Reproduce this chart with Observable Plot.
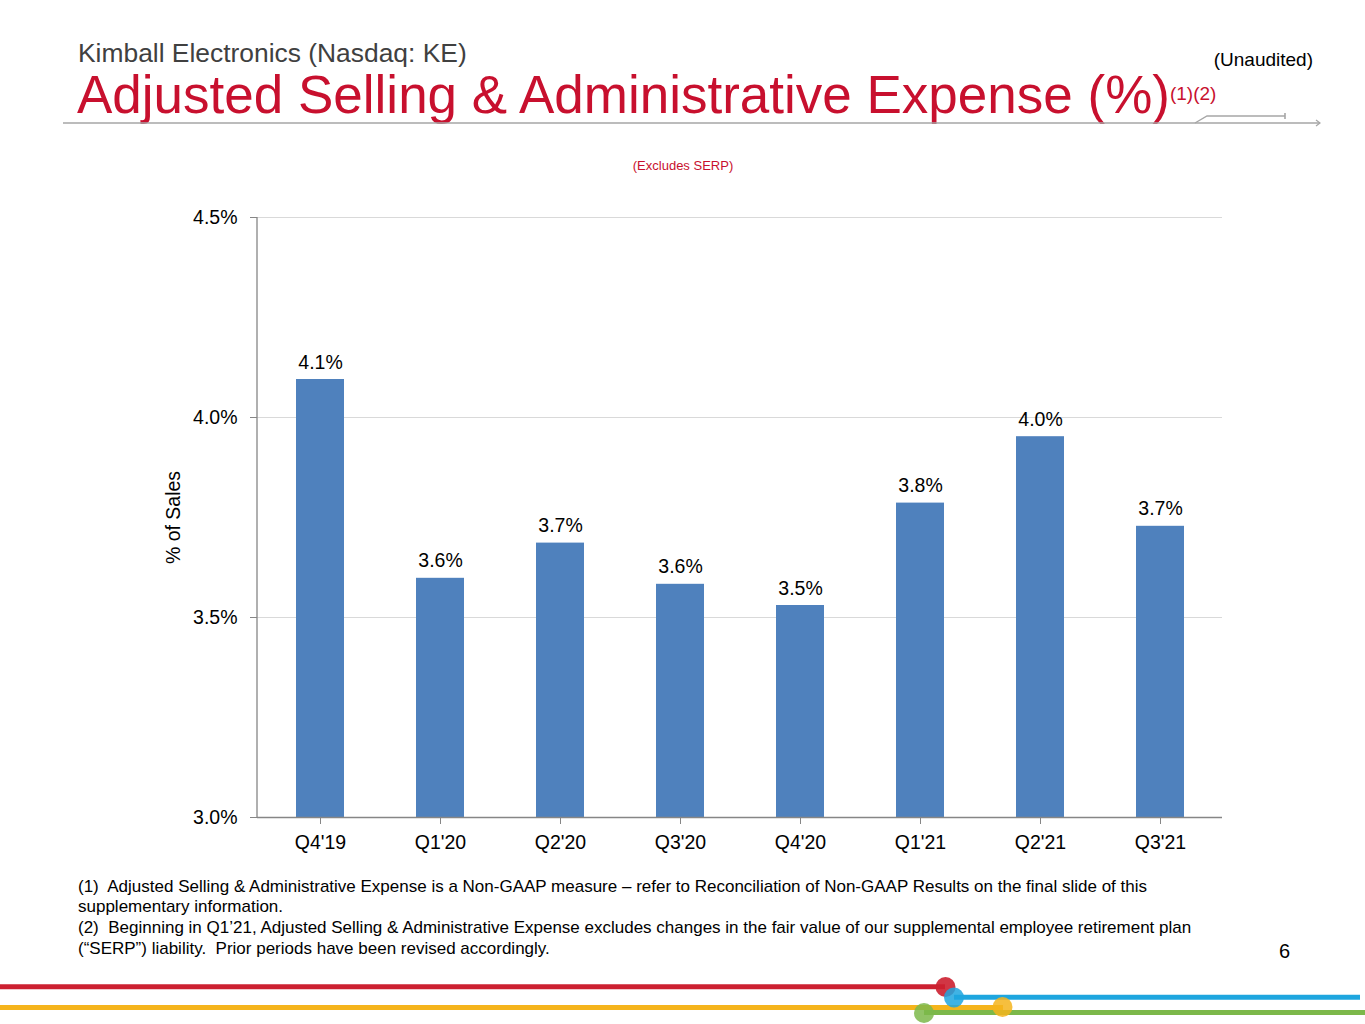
<!DOCTYPE html>
<html><head><meta charset="utf-8">
<script src="https://cdn.jsdelivr.net/npm/d3@7"></script>
<script src="https://cdn.jsdelivr.net/npm/@observablehq/plot@0.6"></script>
<style>
body{margin:0;background:#fff;font-family:"Liberation Sans",Arial,sans-serif;}
#page{position:relative;width:1365px;height:1024px;overflow:hidden;background:#fff;}
.abs{position:absolute;white-space:nowrap;line-height:1;}
#chart{position:absolute;left:0;top:190px;}
</style></head><body><div id="page">
<div class="abs" style="left:78px;top:39.5px;font-size:26.4px;color:#404040;">Kimball Electronics (Nasdaq: KE)</div>
<div class="abs" style="left:77px;top:67.5px;font-size:53px;color:#c8102e;">Adjusted Selling &amp; Administrative Expense (%)<span style="font-size:19px;position:relative;top:-13px;">(1)(2)</span></div>
<div class="abs" style="right:52px;top:50px;font-size:19px;color:#000;">(Unaudited)</div>
<svg class="abs" style="left:0;top:0;" width="1365" height="135">
  <line x1="63" y1="123" x2="1320" y2="123" stroke="#a6a6a6" stroke-width="1.6"/>
  <polyline points="1195,123 1207,116 1285,116" fill="none" stroke="#a6a6a6" stroke-width="1.4"/>
  <line x1="1285" y1="113" x2="1285" y2="119" stroke="#a6a6a6" stroke-width="1.6"/>
  <polyline points="1316,120 1320,123 1316,126" fill="none" stroke="#a6a6a6" stroke-width="1.2"/>
</svg>
<div class="abs" style="left:683px;top:159px;font-size:13px;color:#c8102e;transform:translateX(-50%);">(Excludes SERP)</div>
<div id="chart"></div>
<div class="abs" style="left:78px;top:876.5px;font-size:17px;line-height:20.7px;color:#000;">(1)&nbsp; Adjusted Selling &amp; Administrative Expense is a Non-GAAP measure – refer to Reconciliation of Non-GAAP Results on the final slide of this<br>supplementary information.<br>(2)&nbsp; Beginning in Q1’21, Adjusted Selling &amp; Administrative Expense excludes changes in the fair value of our supplemental employee retirement plan<br>(“SERP”) liability.&nbsp; Prior periods have been revised accordingly.</div>
<div class="abs" style="left:1279px;top:941px;font-size:20px;color:#000;">6</div>
<svg class="abs" style="left:0;top:960px;" width="1365" height="64">
  <line x1="0" y1="26.7" x2="945" y2="26.7" stroke="#cc2030" stroke-width="5"/>
  <line x1="0" y1="47.5" x2="1003" y2="47.5" stroke="#f5b41c" stroke-width="5"/>
  <line x1="954" y1="37.3" x2="1360" y2="37.3" stroke="#1ea6df" stroke-width="5"/>
  <line x1="924" y1="52.5" x2="1365" y2="52.5" stroke="#7cb84a" stroke-width="5"/>
  <circle cx="945.5" cy="27" r="10" fill="#cc2030" opacity="0.9"/>
  <circle cx="954" cy="37.5" r="10" fill="#1ea6df" opacity="0.85"/>
  <circle cx="1002.5" cy="47" r="10" fill="#f5b41c" opacity="0.85"/>
  <circle cx="924" cy="53" r="10" fill="#7cb84a" opacity="0.85"/>
</svg>
</div>
<script>
const quarters = ["Q4'19","Q1'20","Q2'20","Q3'20","Q4'20","Q1'21","Q2'21","Q3'21"];
const values = [4.095,3.598,3.686,3.583,3.530,3.786,3.952,3.728];
const labels = ["4.1%","3.6%","3.7%","3.6%","3.5%","3.8%","4.0%","3.7%"];
const yTicks = [3.0,3.5,4.0,4.5];
const data = quarters.map((q,i)=>({q, v: values[i], label: labels[i]}));

const leftAxisLine = (index, scales, values, dims) => {
  const x = dims.marginLeft;
  return d3.create("svg:line")
    .attr("x1", x).attr("x2", x)
    .attr("y1", scales.y(yTicks[yTicks.length-1])).attr("y2", scales.y(yTicks[0]))
    .attr("stroke", "#868686").attr("stroke-width", 1.3).node();
};

const chart = Plot.plot({
  width: 1365, height: 680,
  marginTop: 27, marginBottom: 53, marginLeft: 257, marginRight: 143,
  style: {fontFamily: "Liberation Sans, Arial, sans-serif", fontSize: "19.5px", color: "#000", background: "transparent", overflow: "visible"},
  x: {domain: quarters, paddingInner: 0.6, paddingOuter: 0.3, align: 0.5},
  y: {domain: [3.0, 4.5]},
  marks: [
    Plot.gridY(yTicks.filter(t => t > 3), {stroke: "#d9d9d9", strokeOpacity: 1}),
    Plot.barY(data, {x: "q", y1: 3.0, y2: "v", fill: "#4f81bd"}),
    Plot.ruleY([3.0], {stroke: "#868686", strokeWidth: 1.3}),
    leftAxisLine,
    Plot.axisY(yTicks, {tickSize: 7, tickPadding: 13, tickFormat: d => d.toFixed(1) + "%", stroke: "#868686", fill: "#000", fontSize: 19.5,
      label: "% of Sales", labelAnchor: "center", labelOffset: 91, labelArrow: "none"}),
    Plot.axisX({tickSize: 7, tickPadding: 11, stroke: "#868686", fill: "#000", fontSize: 19.5, label: null}),
    Plot.text(data, {x: "q", y: "v", text: "label", lineAnchor: "bottom", dy: -11, fontSize: 19.5, fill: "#000"})
  ]
});
document.getElementById("chart").appendChild(chart);
</script>
</body></html>
